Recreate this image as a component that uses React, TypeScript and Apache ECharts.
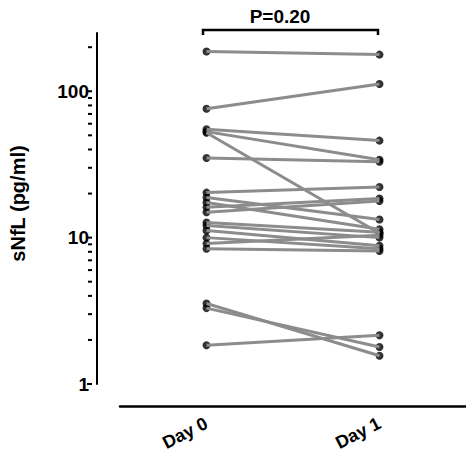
import React, { useEffect, useRef } from "react";
import * as echarts from "echarts";

const categories = ["Day 0", "Day 1"];
const day0 = [187, 76, 55, 53, 52, 35, 20.3, 18.8, 17.4, 16.1, 14.9, 12.7, 12.1, 11.2, 10.0, 9.1, 8.4, 3.55, 3.3, 1.84];
const day1 = [178, 112, 46, 34, 10.7, 33, 22.2, 13.3, 11.4, 18.5, 17.8, 10.9, 10.0, 8.8, 8.4, 10.4, 8.1, 1.56, 1.79, 2.15];
const majorTicks = [1, 10, 100];
const minorTicks = [2, 3, 4, 5, 6, 7, 8, 9, 20, 30, 40, 50, 60, 70, 80, 90, 200];
const pLabel = "P=0.20";
const yName = "sNfL (pg/ml)";

const FONT = "Liberation Sans, Arial, sans-serif";
const GRID_LEFT = 115;
const Y_OFFSET = 23;
const AXIS_X = GRID_LEFT - Y_OFFSET;

export default function App() {
  const ref = useRef<HTMLDivElement>(null);
  useEffect(() => {
    if (!ref.current) return;
    const chart = echarts.init(ref.current, null, { renderer: "svg" });

    const pairSeries = day0.map((v0, i) => ({
      type: "line",
      data: [
        [0, v0],
        [1, day1[i]],
      ],
      showSymbol: false,
      symbol: "none",
      lineStyle: { color: "#8c8c8c", width: 3 },
      z: 3,
      silent: true,
    }));

    const points: number[][] = [];
    day0.forEach((v) => points.push([0, v]));
    day1.forEach((v) => points.push([1, v]));

    const tickData = [
      ...majorTicks.map((v) => [0, v, 5]),
      ...minorTicks.map((v) => [0, v, 4]),
    ];

    chart.setOption({
      animation: false,
      grid: { left: GRID_LEFT, right: 0, top: 33, bottom: 80 },
      xAxis: {
        type: "category",
        data: categories,
        boundaryGap: true,
        offset: 22,
        axisLine: { lineStyle: { color: "#000", width: 2.5 } },
        axisTick: { alignWithLabel: true, length: 6, lineStyle: { color: "#000", width: 2 } },
        axisLabel: {
          rotate: 27,
          margin: 16,
          color: "#000",
          fontWeight: "bold",
          fontSize: 18,
          fontFamily: FONT,
        },
      },
      yAxis: {
        type: "log",
        logBase: 10,
        min: 1,
        max: 250,
        offset: Y_OFFSET,
        splitLine: { show: false },
        axisLine: { show: true, lineStyle: { color: "#000", width: 2 } },
        axisTick: { show: false },
        axisLabel: {
          margin: 8,
          color: "#000",
          fontWeight: "bold",
          fontSize: 19,
          fontFamily: FONT,
          formatter: (v: number) => {
            const l = Math.log10(v);
            return Math.abs(l - Math.round(l)) < 1e-6 ? String(Math.round(v)) : "";
          },
        },
        name: yName,
        nameLocation: "middle",
        nameRotate: 90,
        nameGap: 69,
        nameTextStyle: {
          color: "#000",
          fontWeight: "bold",
          fontSize: 20,
          fontFamily: FONT,
          padding: [0, 0, 0, 10],
        },
      },
      series: [
        {
          type: "custom",
          coordinateSystem: "cartesian2d",
          data: tickData,
          clip: false,
          silent: true,
          z: 5,
          renderItem: (_params: any, api: any) => {
            const p = api.coord([0, api.value(1)]);
            const len = api.value(2);
            return {
              type: "line",
              shape: { x1: AXIS_X - len, y1: p[1], x2: AXIS_X, y2: p[1] },
              style: { stroke: "#000", lineWidth: 2 },
            };
          },
        },
        {
          type: "scatter",
          data: points,
          symbol: "circle",
          symbolSize: 8,
          itemStyle: { color: "#000" },
          z: 2,
          silent: true,
        },
        ...pairSeries,
      ],
      graphic: [
        {
          type: "polyline",
          shape: {
            points: [
              [203, 35],
              [203, 30],
              [378, 30],
              [378, 35],
            ],
          },
          style: { stroke: "#000", lineWidth: 2.5, fill: "none" },
        },
        {
          type: "text",
          x: 280,
          y: 16,
          style: {
            text: pLabel,
            fill: "#000",
            font: `bold 19px ${FONT}`,
            textAlign: "center",
            textVerticalAlign: "middle",
          },
        },
      ],
    });
    return () => chart.dispose();
  }, []);
  return (
    <div
      ref={ref}
      style={{ position: "fixed", left: 0, top: 0, width: 466, height: 464, background: "#fff" }}
    />
  );
}
